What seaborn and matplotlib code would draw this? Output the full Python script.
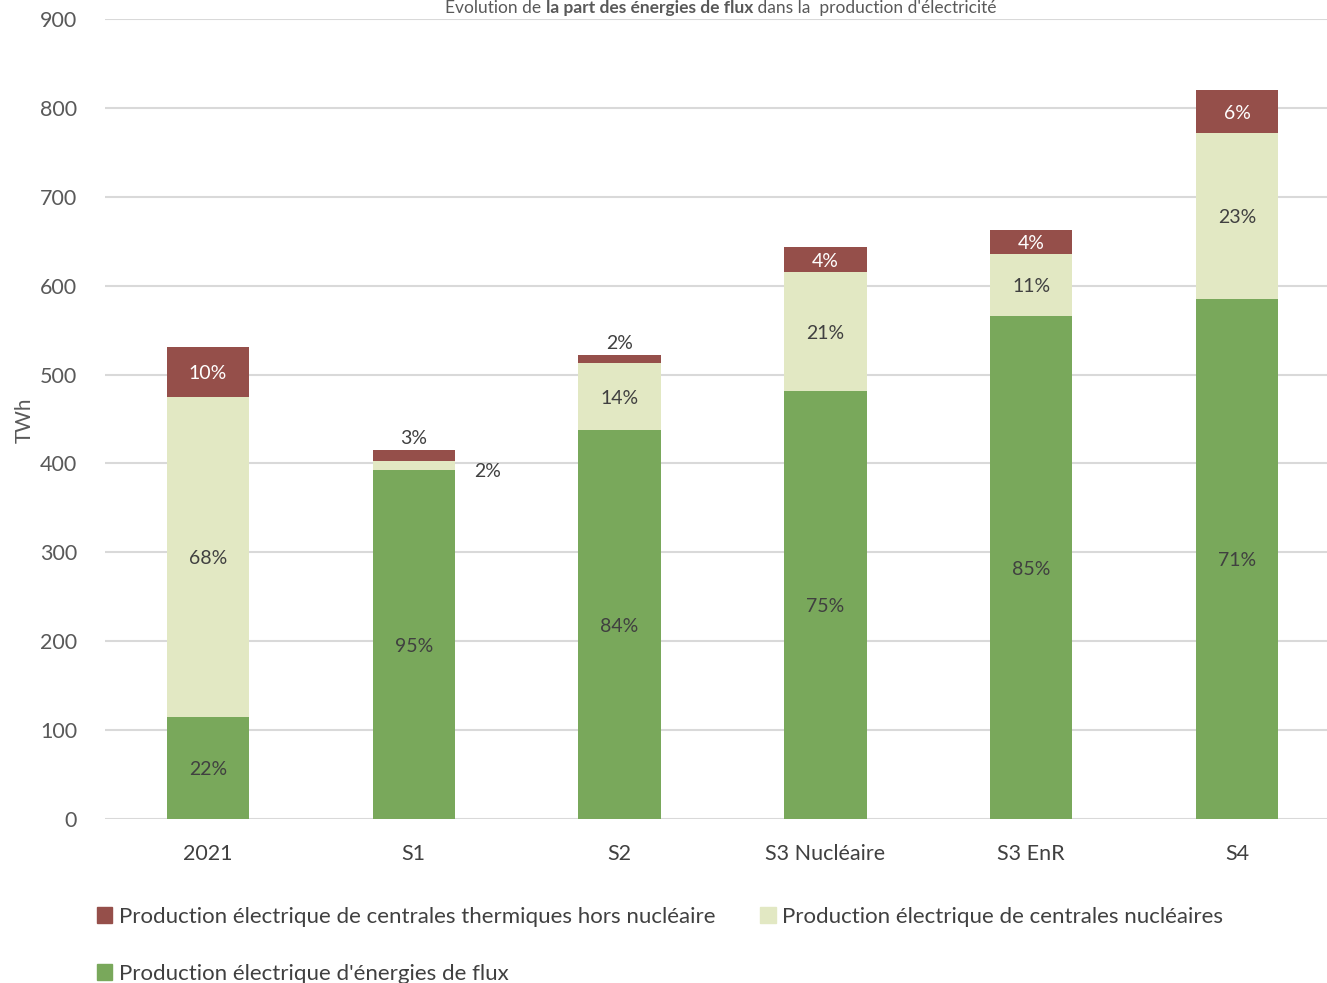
import matplotlib
matplotlib.use("Agg")
import matplotlib.pyplot as plt
import seaborn as sns
import pandas as pd
import numpy as np
from matplotlib.patches import Patch

categories = ["2021", "S1", "S2", "S3 Nucléaire", "S3 EnR", "S4"]
flux = [115, 393, 438, 482, 566, 585]
nucleaire = [360, 10, 75, 133, 70, 187]
thermique = [56, 12, 9, 28, 27, 48]
pct_flux = ["22%", "95%", "84%", "75%", "85%", "71%"]
pct_nuc = ["68%", "2%", "14%", "21%", "11%", "23%"]
pct_therm = ["10%", "3%", "2%", "4%", "4%", "6%"]
yticks = [0, 100, 200, 300, 400, 500, 600, 700, 800, 900]

title_parts = [("Evolution de ", "normal"), ("la part des énergies de flux", "bold"),
               (" dans la  production d'électricité", "normal")]

lab_therm = "Production électrique de centrales thermiques hors nucléaire"
lab_nuc = "Production électrique de centrales nucléaires"
lab_flux = "Production électrique d'énergies de flux"

c_therm = "#954F4A"
c_nuc = "#E2E8C3"
c_flux = "#79A85B"
txt = "#404040"

sns.set_theme(style="white")
plt.rcParams["font.family"] = ["Lato", "DejaVu Sans"]

df = pd.DataFrame({"cat": categories, "flux": flux, "nuc": nucleaire, "therm": thermique})
df["s2"] = df["flux"] + df["nuc"]
df["s3"] = df["s2"] + df["therm"]

W, H = 1327, 983
fig = plt.figure(figsize=(W / 100, H / 100), dpi=100)
ax = fig.add_axes([105 / W, (H - 819) / H, (1340 - 105) / W, 800 / H])
ax.set_axisbelow(True)
ax.yaxis.grid(True, color="#D9D9D9", linewidth=1.5)

w = 0.4
sns.barplot(data=df, x="cat", y="s3", color=c_therm, width=w, ax=ax, saturation=1, linewidth=0)
sns.barplot(data=df, x="cat", y="s2", color=c_nuc, width=w, ax=ax, saturation=1, linewidth=0)
sns.barplot(data=df, x="cat", y="flux", color=c_flux, width=w, ax=ax, saturation=1, linewidth=0)

fs = 14
for i in range(len(categories)):
    f, n, t = flux[i], nucleaire[i], thermique[i]
    ax.text(i, f / 2 - 2, pct_flux[i], ha="center", va="center", fontsize=fs, color=txt)
    if n >= 30:
        ax.text(i, f + n / 2 - 2, pct_nuc[i], ha="center", va="center", fontsize=fs, color=txt)
    else:
        ax.text(i + 0.36, f + n / 2 - 7, pct_nuc[i], ha="center", va="center", fontsize=fs, color=txt)
    if t >= 20:
        ax.text(i, f + n + t / 2 - 2, pct_therm[i], ha="center", va="center", fontsize=fs, color="white")
    else:
        ax.text(i, f + n + t + 3, pct_therm[i], ha="center", va="bottom", fontsize=fs, color=txt)

ax.set_ylim(0, 900)
ax.set_xlim(-0.5, 5.5)
ax.set_yticks(yticks)
ax.set_yticklabels([str(v) for v in yticks])
ax.tick_params(axis="y", labelsize=15.5, labelcolor="#595959", length=0, pad=20)
ax.tick_params(axis="x", labelsize=15.5, labelcolor="#404040", length=0, pad=18)
ax.set_xlabel("")
ax.set_ylabel("")
for s in ax.spines.values():
    s.set_visible(False)

fig.text(25 / W, 1 - 420 / H, "TWh", rotation=90, ha="center", va="center",
         fontsize=15, color="#595959")

# title (split into normal / bold runs), centred around x=721 px
renderer = fig.canvas.get_renderer()
tfs = 12.5
objs = []
for s, wt in title_parts:
    objs.append(fig.text(0, 1 - 8 / H, s, ha="left", va="center", fontsize=tfs,
                         fontweight=wt, color="#595959"))
widths = [o.get_window_extent(renderer).width for o in objs]
x0 = 721 - sum(widths) / 2
for o, wd in zip(objs, widths):
    o.set_x(x0 / W)
    x0 += wd

handles = [Patch(color=c_therm, label=lab_therm), Patch(color=c_flux, label=lab_flux),
           Patch(color=c_nuc, label=lab_nuc)]
fig.legend(handles=handles, loc="upper left", bbox_to_anchor=(88 / W, 1 - 898 / H), ncol=2,
           frameon=False, fontsize=16, handlelength=0.7, handleheight=0.7, handletextpad=0.3,
           columnspacing=2.0, labelspacing=1.65, labelcolor="#404040", borderaxespad=0)

fig.savefig("out.png", dpi=100)
